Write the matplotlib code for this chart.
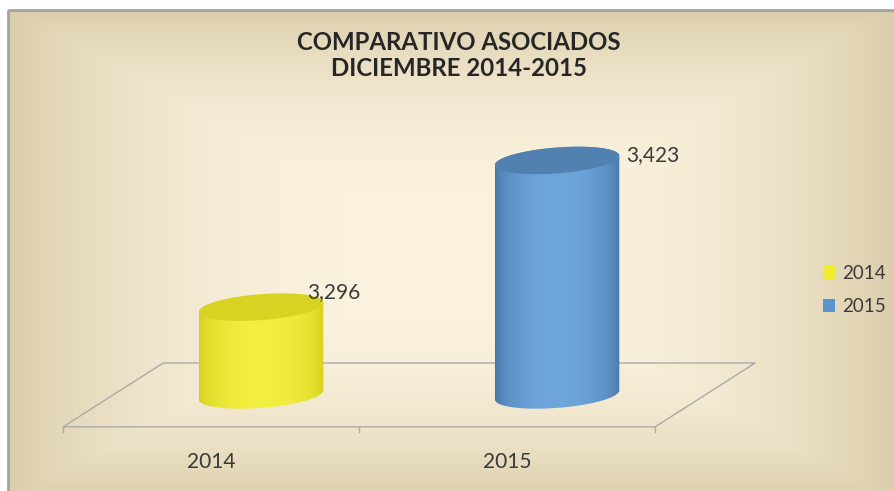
import numpy as np
import matplotlib
matplotlib.use("Agg")
import matplotlib.pyplot as plt
from matplotlib.colors import to_rgb
from matplotlib.patches import Rectangle, Polygon, Patch
from matplotlib.path import Path
from matplotlib.patches import PathPatch


# datos
CATEGORIES = ["2014", "2015"]
VALUES = [3296, 3423]
VALUE_LABELS = ["3,296", "3,423"]
TITLE_LINES = ["COMPARATIVO ASOCIADOS", "DICIEMBRE 2014-2015"]

# estilo de los cilindros: (borde, centro, tapa)
CYL_COLORS = [
    ("#d2cd1c", "#f3ef40", "#d8d322"),
    ("#4672a2", "#6ea6dc", "#5181b0"),
]
LEGEND_COLORS = ["#f0ec30", "#5b93cf"]

W, H = 894, 491
BASE = 3220          # minimo del eje (base de los cilindros)
YMIN, YMAX = 3181, 3458
XMIN, XMAX = -0.578, 1.922
DEPTH_X, DEPTH_Y = 0.338, 55.3
CYL_W = 0.42
ELL_H = 11.2
SHEAR = 4.0           # inclinacion de las elipses
LABEL_OFFSETS = [(-16, 2), (7, -8)]   # pixeles (x, arriba)

plt.rcParams["font.family"] = ["Lato", "DejaVu Sans"]

fig = plt.figure(figsize=(W / 100, H / 100), dpi=100)
fig.patch.set_facecolor("white")

# fondo con degradado rectangular
bg = fig.add_axes([0, 0, 1, 1])
bg.set_xlim(0, W)
bg.set_ylim(H, 0)
bg.axis("off")
xx, yy = np.meshgrid(np.linspace(8, W, 600), np.linspace(10, H, 340))
u = np.abs(xx - 452) / 445
v = np.abs(yy - 255) / 248
t = np.clip(np.maximum(u, v), 0, 1) ** 2.6
c0 = np.array(to_rgb("#fbf3df"))
c1 = np.array(to_rgb("#dbcdab"))
img = c0 + (c1 - c0) * t[..., None]
bg.imshow(img, extent=[8, W, H, 10], aspect="auto", interpolation="bilinear")
bg.add_patch(Rectangle((8, 10), W, H, fill=False, edgecolor="#a3a3a3", lw=2))

# ejes de datos
ax = fig.add_axes([40 / W, 51 / H, 740 / W, 320 / H])
ax.set_xlim(XMIN, XMAX)
ax.set_ylim(YMIN, YMAX)
ax.axis("off")
ax.patch.set_alpha(0)

# piso
front = BASE - DEPTH_Y / 2
back = BASE + DEPTH_Y / 2
floor_pts = [(-0.5, front), (1.5, front), (1.5 + DEPTH_X, back), (-0.5 + DEPTH_X, back)]
ax.add_patch(Polygon(floor_pts, closed=True, fill=False, edgecolor="#aaaaaa", lw=1, zorder=1))
for xt in [-0.5, 0.5, 1.5]:
    ax.plot([xt, xt], [front, front - 4.5], color="#aaaaaa", lw=1, zorder=1, clip_on=False)


def ellipse_points(xc, yc, th):
    x = xc + CYL_W / 2 * np.cos(th)
    y = yc + ELL_H * np.sin(th) + SHEAR * (x - xc) / (CYL_W / 2)
    return x, y


for i, val in enumerate(VALUES):
    xc = i + DEPTH_X / 2
    edge, mid, top = CYL_COLORS[i]
    # cuerpo
    th = np.linspace(np.pi, 2 * np.pi, 80)
    bx, by = ellipse_points(xc, BASE, th)
    tx, ty = ellipse_points(xc, val, np.linspace(0, np.pi, 80))
    verts = list(zip(bx, by)) + list(zip(tx, ty))
    body = PathPatch(Path(verts + [verts[0]], closed=True), facecolor="none", edgecolor="none")
    ax.add_patch(body)
    uu = np.linspace(0, 1, 200)
    s = np.sin(np.pi * uu) ** 0.5
    ce, cm = np.array(to_rgb(edge)), np.array(to_rgb(mid))
    grad = (ce + (cm - ce) * s[:, None])[None, :, :]
    im = ax.imshow(grad, extent=[xc - CYL_W / 2, xc + CYL_W / 2, BASE - 2 * ELL_H, val + 2 * ELL_H],
                   aspect="auto", interpolation="bilinear", zorder=3)
    im.set_clip_path(body)
    # tapa
    ex, ey = ellipse_points(xc, val, np.linspace(0, 2 * np.pi, 120))
    ax.add_patch(Polygon(list(zip(ex, ey)), closed=True, facecolor=top, edgecolor="none", zorder=4))
    # etiqueta de valor
    ax.annotate(VALUE_LABELS[i], xy=(xc + CYL_W / 2, val + ELL_H), xytext=LABEL_OFFSETS[i],
                textcoords="offset pixels", ha="left", va="center", fontsize=15, color="#3a3a3a", zorder=5)
    # etiqueta de categoria
    ax.annotate(CATEGORIES[i], xy=(i, front), xytext=(0, -35), textcoords="offset pixels",
                ha="center", va="center", fontsize=15, color="#3a3a3a", annotation_clip=False)

# titulo
fig.text(459 / W, 1 - 42 / H, TITLE_LINES[0], ha="center", va="center", fontsize=17.3,
         fontweight="bold", color="#262626")
fig.text(459 / W, 1 - 68 / H, TITLE_LINES[1], ha="center", va="center", fontsize=17.3,
         fontweight="bold", color="#262626")

# leyenda
handles = [Patch(facecolor=c, edgecolor="none", label=lab) for c, lab in zip(LEGEND_COLORS, CATEGORIES)]
fig.legend(handles=handles, loc="center left", bbox_to_anchor=(806 / W, 1 - 290 / H), frameon=False,
           fontsize=13.5, handlelength=0.65, handleheight=0.65, handletextpad=0.4, labelspacing=0.85,
           labelcolor="#3a3a3a")

fig.savefig("out.png", dpi=100)
